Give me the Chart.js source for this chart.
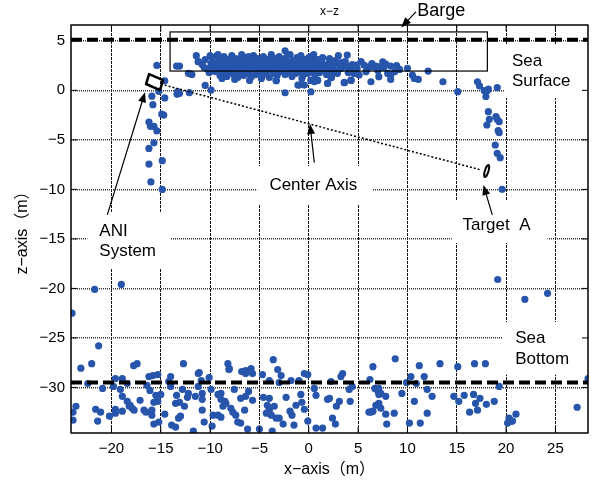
<!DOCTYPE html>
<html>
<head>
<meta charset="utf-8">
<script src="https://cdn.jsdelivr.net/npm/chart.js@4"></script>
<style>
  html, body { margin: 0; padding: 0; background: #fff; }
</style>
</head>
<body>
<canvas id="c" width="592" height="484"></canvas>
<script>
// axis ranges and ticks
const xMin = -24.1, xMax = 28.3;
const zMin = -34.6, zMax = 6.6;
const xTicks = [-20, -15, -10, -5, 0, 5, 10, 15, 20, 25];
const zTicks = [-30, -25, -20, -15, -10, -5, 0, 5];

// reference levels
const bargeZ = 5.1;
const bottomZ = -29.5;
const centerAxisX = [-14.6, 17.45];
const centerAxisZ = [0.53, -8.04];

// echoes under the barge (near the sea surface)
const surfX = [
  -13.4, -13.1, -12.2, -11.85, -11.4, -11.2, -9.3, -12.0, -10.5, -9.9, -13.35, -13.1, -13.3, -12.1, -3.3, -2.4, -1.1, -2.4,
  3.9, 0.22, 0.7, 10.0, 12.1, 13.6, 10.5, 10.7, 11.1, 7.5, 7.8, 8.3, 9.2, 8.0, 8.3, 8.7, 7.1, 6.8, 6.5, 6.1, 5.6, 5.8, 7.1, 6.3, 8.3,
  4.8, 4.6, 5.1, 4.27, 3.93, 3.6, 3.26, 2.92, 2.58, 2.25, 1.91, 1.57, 1.23, 0.89, 3.6, 4.27, 2.25, 1.91, 0.89, 0.56, 0.22, -0.96, -0.45,
  -11.2, -10.8, -10.5, -10.3, -10.1, -9.9, -9.8, -9.6, -9.5, -9.3, -9.2, -9.1, -9.0, -8.9, -8.8, -8.7, -8.6, -8.5, -8.4, -8.3,
  -8.2, -8.1, -8.0, -7.9, -7.8, -7.7, -7.6, -7.5, -7.4, -7.3, -7.2, -7.1, -7.0, -6.9, -6.8, -6.7, -6.6, -6.5, -6.4, -6.3,
  -6.2, -6.1, -6.0, -5.9, -5.8, -5.7, -5.6, -5.5, -5.4, -5.3, -5.2, -5.1, -5.0, -4.9, -4.8, -4.7, -4.6, -4.5, -4.4, -4.3,
  -4.2, -4.1, -4.0, -3.9, -3.8, -3.7, -3.6, -3.5, -3.4, -3.3, -3.2, -3.1, -3.0, -2.9, -2.8, -2.7, -2.6, -2.5, -2.4, -2.3,
  -2.2, -2.1, -2.0, -1.9, -1.8, -1.7, -1.6, -1.5, -1.4, -1.3, -1.2, -1.1, -1.0, -0.9, -0.8, -0.7, -0.6, -0.5, -0.4, -0.3,
  -0.2, -0.1, 0.0, 0.1, 0.2, 0.3, 0.4, 0.5, 0.6, 0.7, 0.8, 0.9, 1.0, 1.1, 1.3, 1.4, 1.6, 1.8, 2.0, 2.1,
  2.3, 2.5, 2.7, 2.9, 3.1, 3.4, 3.7, 4.0, 4.4, 4.9, 5.3, 5.9, 6.4, 7.0, 7.6, 8.9,
  -10.6, -10.0, -9.7, -9.4, -8.9, -8.6, -8.2, -7.9, -7.6, -7.3, -7.0, -6.7, -6.4, -6.1, -5.8, -5.5, -5.2, -4.9, -4.6, -4.3,
  -4.0, -3.7, -3.4, -3.1, -2.8, -2.5, -2.2, -1.9, -1.6, -1.3, -1.0, -0.7, -0.4, -0.1, 0.2, 0.5, 0.8, 1.1, 1.4, 1.7,
  2.2, 2.6, 3.0, 3.3, 3.9,
  -8.8, -7.5, -6.0, -4.8, -3.3, -0.7, 0.2, 0.9, 1.9, 2.3, 3.6, 4.3
];
const surfZ = [
  2.45, 2.45, 1.72, 1.6, 3.5, 2.9, 3.5, 1.67, 0.5, 0.03, -0.4, -0.3, -0.13, -0.23, 0.97, -0.24, 0.54, 4.0,
  3.56, 3.4, 3.1, 2.22, 1.95, 0.87, 1.55, 1.2, 1.1, 2.89, 2.65, 2.45, 2.11, 1.71, 1.55, 1.88, 2.38, 2.45, 2.38, 2.38, 2.55, 1.88, 1.38, 0.87, 1.1,
  2.55, 1.71, 1.55, 2.05, 2.38, 2.72, 2.21, 1.98, 1.88, 2.05, 2.45, 2.21, 2.38, 2.55, 0.77, 1.04, 1.27, 0.71, 1.04, 0.87, -0.14, 0.53, 0.53,
  2.9, 2.6, 3.1, 2.2, 1.8, 2.7, 3.3, 2.4, 1.9, 2.8, 3.6, 2.2, 1.5, 3.0, 2.5, 1.9, 3.4, 2.7, 2.1, 1.4,
  3.1, 2.4, 1.8, 2.9, 3.5, 2.2, 1.6, 2.7, 3.2, 2.0, 1.3, 2.5, 3.0, 1.8, 3.6, 2.3, 1.5, 2.8, 3.3, 2.0,
  2.6, 1.7, 3.1, 2.4, 1.4, 2.9, 3.5, 2.1, 1.6, 2.7, 3.2, 2.3, 1.9, 3.0, 2.5, 1.5, 3.4, 2.2, 2.8, 1.8,
  3.1, 2.4, 1.3, 2.9, 3.6, 2.0, 2.6, 1.7, 3.2, 2.3, 1.5, 2.8, 3.4, 2.1, 1.9, 2.7, 3.0, 2.4, 1.6, 3.3,
  2.2, 2.8, 1.8, 3.6, 2.5, 1.4, 3.0, 2.2, 2.7, 1.7, 3.3, 2.4, 1.9, 2.9, 3.5, 2.1, 1.5, 2.6, 3.1, 2.0,
  2.8, 1.7, 3.3, 2.4, 1.9, 2.9, 2.2, 3.6, 1.6, 2.7, 2.0, 3.1, 2.4, 1.8, 2.9, 3.3, 2.2, 1.6, 2.7, 3.2,
  2.0, 2.5, 3.0, 1.7, 2.6, 2.3, 2.9, 1.8, 2.6, 2.2, 2.9, 2.1, 2.7, 2.0, 2.3, 2.5,
  2.3, 3.5, 2.0, 2.5, 2.2, 1.7, 2.6, 2.0, 3.0, 2.6, 2.2, 2.9, 1.9, 3.4, 2.5, 2.9, 1.8, 2.4, 2.0, 2.9,
  2.6, 3.1, 1.9, 2.2, 3.0, 1.9, 2.6, 2.1, 2.6, 2.9, 2.3, 2.7, 1.8, 2.4, 2.9, 2.1, 2.6, 2.9, 2.1, 2.5,
  2.4, 1.9, 3.5, 2.8, 2.4,
  1.2, 1.1, 1.0, 1.2, 1.0, 1.2, 1.0, 1.0, 0.7, 1.3, 0.8, 1.0
];

// echoes along the left and right walls
const leftX = [-15.4, -14.6, -15.2, -15.9, -14.6, -15.8, -14.7, -14.9, -16.2, -16.05, -15.7, -15.4, -15.7, -16.2, -14.85, -16.2, -16.0, -14.85];
const leftZ = [2.52, 0.97, -0.1, -0.59, -0.76, -1.45, -2.5, -2.4, -3.2, -3.63, -3.63, -4.1, -5.3, -5.86, -7.1, -7.44, -9.25, -10.0];
const rightX = [15.1, 17.1, 17.3, 17.78, 18.1, 17.95, 18.2, 19.1, 18.2, 18.3, 18.05, 18.97, 19.1, 19.3, 19.2, 19.3, 18.9, 19.1, 19.4, 19.6];
const rightZ = [-0.13, 0.87, 0.45, -0.02, -0.02, -0.62, 0.12, 0.27, -2.15, -2.93, -3.5, -2.65, -2.93, -3.16, -4.07, -4.27, -5.52, -6.36, -6.8, -9.99];

// scattered mid-water echoes
const strayX = [-24.0, -21.7, -19.0, -21.3, 19.15, 21.9, 24.2];
const strayZ = [-22.5, -20.1, -19.6, -25.8, -19.1, -21.1, -20.5];

// echoes around the sea bottom
const bedX = [
  -23.9, -23.9, -23.6, -23.1, -22.0, -17.75, -17.4, -12.7, -11.2, -19.6, -18.9, -18.4, -16.2, -15.8, -15.3, -14.0, -14.2, -14.0, -22.4, -20.9,
  -19.8, -19.1, -16.4, -16.1, -15.5, -15.7, -15.3, -15.0, -18.9, -18.4, -18.1, -17.7, -18.2, -17.1, -21.6, -21.1, -21.4, -20.2, -19.6, -19.6,
  -18.9, -17.9, -16.7, -16.5, -15.9, -15.9, -15.7, -15.2, -14.6, -13.9, -13.5, -13.4, -13.1, -13.5, -12.8, -12.2, -12.3, -11.5, -12.6, -13.0,
  -13.2, -11.7, -11.2,
  -8.2, -8.05, -8.1, -6.8, -6.4, -6.4, -5.85, -5.7, -3.6, -3.15, -2.8, -4.7, -4.0, -3.0, -1.8, -1.0, -0.45, -0.1, -11.1, -10.1,
  -10.9, -9.9, -7.55, -6.1, -6.4, -6.9, -5.7, -9.2, -8.9, -8.5, -8.9, -8.4, -8.7, -10.8, -10.8, -4.6, -4.0, -4.2, -4.0, -4.3,
  -3.5, -3.8, -3.3, -3.0, -2.3, -0.8, -0.7, -1.3, -0.45, -1.9, -1.7, 0.56, 0.73, 1.9, -10.8, -10.6, -9.7, -9.8, -9.2, -8.9,
  -7.9, -7.7, -7.4, -6.5, -7.2, -6.9, -6.2, -5.0, -3.7, -2.6, -1.5, -0.1, 0.73, 1.4,
  2.25, 3.26, 3.43, 4.1, 4.4, 2.1, 3.1, 2.8, 4.2, 2.4, 2.7, 6.5, 8.76, 6.2, 6.7, 6.97, 7.1, 7.3, 7.1, 7.8,
  6.8, 7.1, 7.3, 6.5, 6.1, 6.3, 7.8, 8.66, 7.9, 9.44, 9.9, 10.35, 10.9, 11.2, 11.7, 13.3, 12.0, 12.5, 10.7, 12.0,
  10.2, 11.3, 15.1, 14.7, 15.2,
  16.8, 17.9, 19.3, 15.75, 16.7, 17.35, 16.9, 18.0, 18.8, 16.3, 17.1, 20.3, 20.5, 20.15, 20.65, 21.0, 27.2, 28.3
];
const bedZ = [
  -32.5, -33.3, -31.9, -28.05, -27.6, -27.8, -27.6, -27.6, -28.6, -29.1, -29.1, -29.6, -28.9, -28.8, -28.7, -28.9, -29.4, -29.9, -29.6, -30.1,
  -29.9, -30.2, -29.8, -30.3, -30.8, -31.5, -31.4, -30.7, -30.9, -31.4, -31.8, -32.3, -31.9, -31.3, -32.2, -32.5, -33.4, -32.9, -32.2, -32.6,
  -32.4, -32.1, -32.3, -32.5, -32.3, -32.8, -33.7, -33.5, -32.7, -33.8, -34.0, -30.8, -31.5, -31.6, -30.2, -30.6, -31.0, -30.9, -31.9, -32.9,
  -33.1, -34.4, -29.9,
  -27.6, -28.1, -28.2, -28.4, -28.3, -28.6, -28.1, -28.6, -27.2, -28.2, -28.8, -28.7, -29.3, -29.5, -29.3, -29.3, -28.6, -28.7, -28.5, -29.0,
  -29.3, -30.2, -30.2, -30.4, -30.9, -31.1, -31.3, -30.7, -30.6, -31.4, -31.2, -31.6, -31.9, -30.6, -31.2, -31.0, -31.1, -31.8, -32.3, -32.6,
  -31.9, -32.8, -33.1, -33.1, -31.0, -30.7, -31.5, -31.8, -32.2, -32.4, -32.8, -30.1, -30.8, -31.2, -32.3, -33.5, -32.8, -33.9, -32.8, -33.0,
  -32.1, -32.5, -32.8, -32.3, -33.5, -33.6, -34.2, -34.2, -34.4, -33.7, -33.8, -33.4, -34.1, -34.1,
  -29.4, -28.9, -28.6, -30.2, -29.9, -31.1, -31.4, -31.9, -31.4, -33.1, -33.7, -27.9, -27.1, -29.2, -30.1, -30.3, -30.1, -30.6, -30.7, -30.9,
  -31.8, -31.6, -32.1, -32.4, -32.5, -32.5, -32.7, -32.6, -33.7, -30.6, -29.5, -28.9, -29.6, -27.8, -28.9, -27.6, -30.2, -30.9, -31.4, -32.6,
  -33.6, -33.6, -27.9, -30.9, -31.4,
  -27.6, -27.6, -29.9, -30.8, -30.7, -31.1, -31.6, -31.7, -31.4, -32.5, -32.3, -33.1, -33.4, -33.6, -33.4, -32.7, -32.0, -29.1
];

const FONT = "'Liberation Sans', Arial, 'Noto Sans CJK JP', sans-serif";
const dotColor = '#2755ab';
const fmt = v => (v < 0 ? '\u2212' + Math.abs(v) : String(v));
const pts = (xs, zs) => xs.map((x, i) => ({ x: x, y: zs[i] }));

// annotation boxes (data units): [x0, x1, z0, z1]
const whiteBoxes = [
  [-5.22, 6.43, -7.64, -11.57],
  [-22.44, -14.03, -12.38, -17.93],
  [14.49, 24.2, -11.07, -15.41],
  [19.9, 28.3, 4.67, -0.78],
  [19.6, 28.3, -23.4, -28.7]
];

function arrow(ctx, x1, y1, x2, y2) {
  const a = Math.atan2(y2 - y1, x2 - x1);
  const L = 10, W = 4;
  ctx.beginPath();
  ctx.moveTo(x1, y1);
  ctx.lineTo(x2 - Math.cos(a) * L * 0.8, y2 - Math.sin(a) * L * 0.8);
  ctx.stroke();
  ctx.beginPath();
  ctx.moveTo(x2, y2);
  ctx.lineTo(x2 - L * Math.cos(a) + W * Math.sin(a), y2 - L * Math.sin(a) - W * Math.cos(a));
  ctx.lineTo(x2 - L * Math.cos(a) - W * Math.sin(a), y2 - L * Math.sin(a) + W * Math.cos(a));
  ctx.closePath();
  ctx.fill();
}

const annot = {
  id: 'annot',
  beforeDatasetsDraw(chart) {
    const { ctx, scales: { x, y } } = chart;
    ctx.save();
    ctx.fillStyle = '#fff';
    whiteBoxes.forEach(b => {
      const l = x.getPixelForValue(b[0]), r = x.getPixelForValue(b[1]);
      const t = y.getPixelForValue(b[2]), bt = y.getPixelForValue(b[3]);
      ctx.fillRect(l, t, r - l, bt - t);
    });
    ctx.restore();
  },
  afterDatasetsDraw(chart) {
    const { ctx, chartArea: a, scales: { x, y } } = chart;
    const P = (vx, vy) => [x.getPixelForValue(vx), y.getPixelForValue(vy)];
    ctx.save();
    ctx.strokeStyle = '#000';
    ctx.fillStyle = '#000';

    // barge rectangle
    ctx.lineWidth = 1.2;
    const [r0x, r0y] = P(-14.06, 5.9), [r1x, r1y] = P(18.1, 1.95);
    ctx.strokeRect(r0x, r0y, r1x - r0x, r1y - r0y);

    // ANI system outline
    ctx.lineWidth = 2.5;
    ctx.lineJoin = 'round';
    ctx.beginPath();
    [[-16.19, 1.64], [-14.77, 1.04], [-15.08, 0.03], [-16.49, 0.64]].forEach((p, i) => {
      const [px, py] = P(p[0], p[1]);
      i ? ctx.lineTo(px, py) : ctx.moveTo(px, py);
    });
    ctx.closePath();
    ctx.stroke();

    // target A
    const [tx, ty] = P(18.03, -8.14);
    ctx.lineWidth = 2;
    ctx.beginPath();
    ctx.ellipse(tx, ty, 1.8, 6.3, 0.3, 0, Math.PI * 2);
    ctx.stroke();

    // arrows
    ctx.lineWidth = 1.2;
    [[10.86, 7.93, 9.37, 6.36], [0.56, -7.3, 0.12, -3.4], [-20.42, -12.58, -16.6, -0.2], [18.6, -12.58, 17.7, -9.56]].forEach(d => {
      const [ax, ay] = P(d[0], d[1]), [bx, by] = P(d[2], d[3]);
      arrow(ctx, ax, ay, bx, by);
    });

    // texts
    ctx.font = '17px ' + FONT;
    ctx.textBaseline = 'middle';
    ctx.textAlign = 'center';
    let p = P(0.46, -9.56); ctx.fillText('Center Axis', p[0], p[1]);
    ctx.textAlign = 'left';
    p = P(-21.23, -14.27); ctx.fillText('ANI', p[0], p[1]);
    p = P(-21.23, -16.29); ctx.fillText('System', p[0], p[1]);
    p = P(15.58, -13.59); ctx.fillText('Target  A', p[0], p[1]);
    p = P(20.59, 2.89); ctx.fillText('Sea', p[0], p[1]);
    p = P(20.59, 0.87); ctx.fillText('Surface', p[0], p[1]);
    p = P(20.92, -25.0); ctx.fillText('Sea', p[0], p[1]);
    p = P(20.92, -27.2); ctx.fillText('Bottom', p[0], p[1]);
    ctx.font = '18px ' + FONT;
    p = P(10.99, 8.03); ctx.fillText('Barge', p[0], p[1]);

    // frame with inward ticks
    ctx.lineWidth = 1.5;
    ctx.strokeRect(a.left, a.top, a.right - a.left, a.bottom - a.top);
    ctx.lineWidth = 1;
    ctx.beginPath();
    xTicks.forEach(v => {
      const px = x.getPixelForValue(v);
      ctx.moveTo(px, a.bottom); ctx.lineTo(px, a.bottom - 6);
      ctx.moveTo(px, a.top); ctx.lineTo(px, a.top + 6);
    });
    zTicks.forEach(v => {
      const py = y.getPixelForValue(v);
      ctx.moveTo(a.left, py); ctx.lineTo(a.left + 6, py);
      ctx.moveTo(a.right, py); ctx.lineTo(a.right - 6, py);
    });
    ctx.stroke();

    // titles
    ctx.textAlign = 'center';
    ctx.font = '12px ' + FONT;
    ctx.fillText('x\u2212z', (a.left + a.right) / 2, 12);
    ctx.font = '16px ' + FONT;
    ctx.fillText('x\u2212axis\uFF08m\uFF09', (a.left + a.right) / 2, 470);
    ctx.translate(23, (a.top + a.bottom) / 2);
    ctx.rotate(-Math.PI / 2);
    ctx.fillText('z\u2212axis\uFF08m\uFF09', 0, 0);
    ctx.restore();
  }
};

const lineDs = (data, dash, width) => ({
  type: 'line', data: data, borderColor: '#000', borderWidth: width, borderDash: dash,
  pointRadius: 0, fill: false, tension: 0
});

new Chart(document.getElementById('c'), {
  type: 'scatter',
  data: {
    datasets: [
      lineDs([{ x: xMin, y: bargeZ }, { x: xMax, y: bargeZ }], [11, 5], 4),
      lineDs([{ x: xMin, y: bottomZ }, { x: xMax, y: bottomZ }], [11, 5], 4),
      lineDs(pts(centerAxisX, centerAxisZ), [2, 2], 1.5),
      {
        data: pts(surfX, surfZ).concat(pts(leftX, leftZ), pts(rightX, rightZ), pts(strayX, strayZ), pts(bedX, bedZ)),
        backgroundColor: dotColor, borderWidth: 0, pointRadius: 3.6
      }
    ]
  },
  options: {
    responsive: false,
    animation: false,
    devicePixelRatio: 1,
    layout: { padding: { top: 25, right: 3, left: 0, bottom: 0 } },
    plugins: { legend: { display: false }, tooltip: { enabled: false } },
    scales: {
      x: {
        type: 'linear', min: xMin, max: xMax,
        afterBuildTicks: s => { s.ticks = xTicks.map(v => ({ value: v })); },
        afterFit: s => { s.height = 51; },
        grid: { color: '#111', lineWidth: 1, drawTicks: false },
        border: { display: false, dash: [3, 1] },
        ticks: { padding: 7, color: '#000', font: { family: FONT, size: 15 }, callback: v => fmt(v), maxRotation: 0 }
      },
      y: {
        type: 'linear', min: zMin, max: zMax,
        afterBuildTicks: s => { s.ticks = zTicks.map(v => ({ value: v })); },
        afterFit: s => { s.width = 71; },
        grid: { color: '#333', lineWidth: 1.5, drawTicks: false },
        border: { display: false, dash: [1, 1] },
        ticks: { padding: 6, color: '#000', font: { family: FONT, size: 15 }, callback: v => fmt(v) }
      }
    }
  },
  plugins: [annot]
});
</script>
</body>
</html>
